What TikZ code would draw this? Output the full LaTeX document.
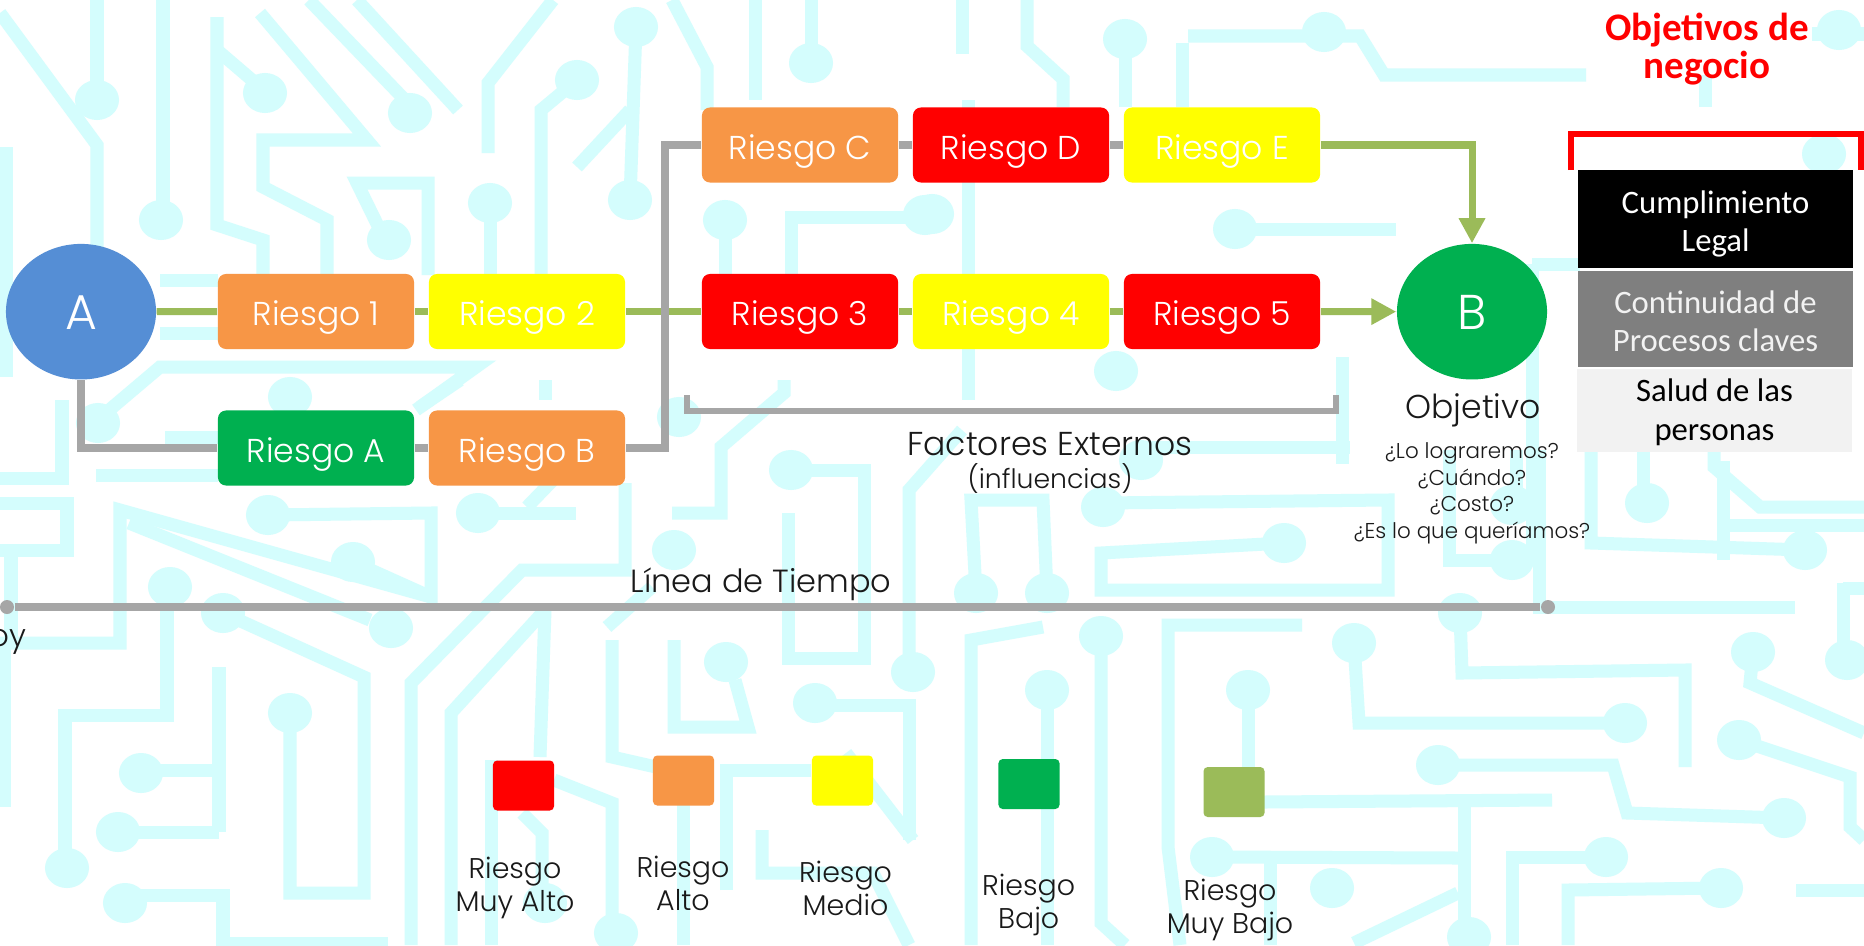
\documentclass[tikz,border=0pt]{standalone}
\usepackage{fontspec}
\setmainfont{Poppins Light}
\newfontfamily\calfont{Carlito}
\usetikzlibrary{shapes.geometric,arrows.meta}
\definecolor{bgc}{RGB}{212,253,253}
\definecolor{cblue}{RGB}{85,142,213}
\definecolor{corange}{RGB}{247,150,70}
\definecolor{cyellow}{RGB}{255,255,0}
\definecolor{cred}{RGB}{255,0,0}
\definecolor{cgreen}{RGB}{0,176,80}
\definecolor{clgreen}{RGB}{155,187,89}
\definecolor{lgray}{RGB}{166,166,166}
\definecolor{boxgray}{RGB}{127,127,127}
\definecolor{boxlight}{RGB}{242,242,242}
\definecolor{txt}{RGB}{25,25,25}
\newcommand{\cpad}[2]{\fill[bgc] (#1,#2) ellipse [x radius=0.22cm, y radius=0.2cm];}
\tikzset{
  trace/.style={draw=bgc, line width=3.7pt},
  riskbox/.style={rounded corners=2.3pt, minimum width=1.96cm, minimum height=0.75cm, inner sep=0pt,
    text=white, font=\fontsize{9.4}{11}\selectfont, text height=8pt, text depth=0pt},
  endpoint/.style={ellipse, minimum width=1.5cm, minimum height=1.355cm, inner sep=0pt, text=white,
    font=\fontsize{13.9}{15}\selectfont, text height=10.4pt, text depth=0pt},
  gline/.style={draw=clgreen, line width=2pt},
  gyline/.style={draw=lgray, line width=2pt},
  tip/.style={-{Triangle[width=0.25cm,length=0.25cm]}},
  obox/.style={minimum width=2.75cm, inner sep=0pt},
  otext/.style={inner sep=0pt, align=center, font=\calfont\fontsize{9.3}{11}\selectfont},
  legsq/.style={rounded corners=1.2pt, minimum width=0.61cm, minimum height=0.5cm, inner sep=0pt},
  leglab/.style={anchor=north, inner sep=0pt, align=center, text=txt, font=\fontsize{8.1}{9.4}\selectfont},
  plain/.style={inner sep=0pt, text=txt},
  dot/.style={circle, fill=lgray, minimum size=0.14cm, inner sep=0pt}
}
\begin{document}
\begin{tikzpicture}[x=0.01cm,y=-0.01cm]
\useasboundingbox[fill=white] (0,0) rectangle (1864,945);
% ---------- background circuit pattern ----------
% top left
\draw[trace] (0,13)--(97,145)--(97,250);
\draw[trace] (97,0)--(97,100); \cpad{97}{100}
\draw[trace] (6,147)--(6,377);
\draw[trace] (163,0)--(163,220); \cpad{161}{220}
\draw[trace] (217,17)--(217,225)--(263,240)--(263,275);
\draw[trace] (217,50)--(252,80); \cpad{265}{93}
\draw[trace] (260,13)--(367,140)--(263,140)--(263,187)--(327,220)--(327,275);
\draw[trace] (309,0)--(405,100); \cpad{410}{113}
\draw[trace] (357,0)--(458,110);
\draw[trace] (428,275)--(428,183)--(357,183)--(380,230); \cpad{389}{240}
\draw[trace] (488,153)--(488,83)--(553,0);
\cpad{490}{203} \draw[trace] (490,203)--(490,275);
\cpad{577}{80} \draw[trace] (577,80)--(541,110)--(541,275);
\cpad{636}{27} \cpad{630}{200} \draw[trace] (636,27)--(630,200);
\draw[trace] (577,167)--(630,110);
\draw[trace] (672,0)--(707,67)--(707,110);
\draw[trace] (755,0)--(755,100);
\draw[trace] (811,0)--(811,63); \cpad{811}{63}
\draw[trace] (785,217)--(932,217); \draw[trace] (791,217)--(791,275); \cpad{925}{215}
\cpad{725}{220} \draw[trace] (725,220)--(725,275);
\draw[trace] (101,417)--(160,367)--(476,367)--(416,410); \cpad{98}{423}
\draw[trace] (160,280)--(218,280);
\draw[trace] (160,333)--(218,333);
% middle band left
\draw[trace] (62,400)--(62,478)--(0,478);
\draw[trace] (96,475)--(218,475);
\draw[trace] (165,437)--(219,437);
\cpad{290}{397}
\draw[trace] (420,407)--(460,380);
\draw[trace] (545,380)--(545,400);
\draw[trace] (0,503)--(67,503)--(67,550)--(0,550);
\draw[trace] (11,550)--(11,640);
\draw[trace] (0,643)--(120,643)--(120,510)--(431,597)--(431,513)--(268,515); \cpad{268}{515}
\draw[trace] (129,523)--(370,620); \cpad{391}{628}
\cpad{353}{562} \draw[trace] (353,562)--(431,597);
\cpad{478}{513} \draw[trace] (478,513)--(576,513);
\draw[trace] (527,507)--(553,480);
\draw[trace] (625,483)--(625,570)--(522,570)--(411,683)--(411,945);
\cpad{674}{550} \cpad{679}{417}
\draw[trace] (607,627)--(652,587);
% middle band right
\draw[trace] (672,513)--(721,513)--(721,447)--(784,393)--(784,380);
\cpad{791}{470} \draw[trace] (791,470)--(864,470)--(864,658)--(788,658)--(788,513);
\draw[trace] (962,430)--(909,490)--(909,665); \cpad{913}{672}
\draw[trace] (976,593)--(971,500)--(1043,500)--(1047,593); \cpad{976}{593} \cpad{1047}{593}
\cpad{1103}{507} \draw[trace] (1103,503)--(1388,500)--(1388,590)--(1101,590)--(1101,553)--(1284,543); \cpad{1284}{543}
\cpad{1141}{460} \draw[trace] (1141,447)--(1350,447);
\draw[trace] (968,100)--(968,400);
\cpad{932}{214}
\cpad{1116}{371}
\draw[trace] (1342,357)--(1342,464);
% top right
\draw[trace] (962,0)--(962,54);
\draw[trace] (1027,0)--(1027,46)--(1063,79)--(1063,107);
\cpad{1125}{39} \draw[trace] (1125,39)--(1125,107);
\draw[trace] (1188,36)--(1360,36)--(1384,75)--(1586,75);
\cpad{1324}{32}
\draw[trace] (1182,43)--(1182,107);
\draw[trace] (1812,34)--(1864,34); \cpad{1839}{30}
\cpad{1824}{154}
\draw[trace] (1705,75)--(1705,107);
\cpad{1235}{229} \draw[trace] (1235,229)--(1396,229);
\draw[trace] (1532,264)--(1532,557); \draw[trace] (1532,264)--(1580,264);
\draw[trace] (1723,461)--(1723,560); \draw[trace] (1723,525)--(1864,525);
% lower right
\draw[trace] (1643,450)--(1643,503); \cpad{1647}{503}
\draw[trace] (1591,450)--(1591,543)--(1805,550); \cpad{1805}{550}
\draw[trace] (1714,450)--(1714,467)--(1760,507)--(1864,507);
\draw[trace] (1539,450)--(1539,607)--(1795,607);
\draw[trace] (1449,450)--(1449,560)--(1512,560); \cpad{1512}{560}
\draw[trace] (1516,450)--(1516,505); \cpad{1512}{505}
\cpad{1460}{613} \draw[trace] (1460,613)--(1462,673)--(1685,670)--(1685,767);
\cpad{1354}{643} \draw[trace] (1354,643)--(1359,723)--(1625,723); \cpad{1625}{723}
\cpad{1438}{765} \draw[trace] (1438,765)--(1613,765)--(1627,813)--(1784,818); \cpad{1784}{818}
\cpad{1753}{652} \draw[trace] (1753,652)--(1750,683)--(1864,733);
\cpad{1739}{740} \draw[trace] (1739,740)--(1850,777)--(1850,827)--(1864,840);
\draw[trace] (1843,583)--(1843,650); \cpad{1847}{660} \draw[trace] (1843,588)--(1864,588);
\draw[trace] (1264,802)--(1552,800); \draw[trace] (1464,800)--(1464,945);
\draw[trace] (1212,857)--(1458,858); \cpad{1212}{857}
\draw[trace] (1270,857)--(1270,945);
\draw[trace] (1512,945)--(1512,857)--(1606,857); \cpad{1606}{857}
\draw[trace] (1568,945)--(1568,890)--(1721,888); \cpad{1721}{888}
\draw[trace] (1796,890)--(1864,890);
\cpad{1332}{888} \draw[trace] (1458,893)--(1354,943);
\cpad{1469}{937}
% lower left
\draw[trace] (4,640)--(4,807);
\cpad{170}{587} \draw[trace] (167,600)--(167,715)--(65,715)--(65,853); \cpad{67}{868}
\cpad{223}{613} \draw[trace] (223,613)--(364,677)--(364,893)--(290,893)--(290,713); \cpad{290}{713}
\draw[trace] (219,667)--(219,832); \draw[trace] (141,770)--(219,770); \cpad{141}{773}
\cpad{118}{832} \draw[trace] (118,832)--(219,832);
\cpad{125}{903} \draw[trace] (125,895)--(223,895)--(223,943)--(388,943);
\draw[trace] (545,610)--(451,713)--(451,945);
\draw[trace] (545,610)--(540,757);
\draw[trace] (522,813)--(542,833)--(542,895); \cpad{545}{903}
\draw[trace] (491,760)--(491,945);
\draw[trace] (554,780)--(612,803)--(612,927); \cpad{616}{933}
\draw[trace] (612,640)--(612,757)--(656,767);
\cpad{726}{662} \draw[trace] (735,680)--(748,727)--(674,727)--(674,640);
\draw[trace] (683,790)--(683,945);
\cpad{815}{703} \draw[trace] (815,705)--(909,705)--(909,840);
\draw[trace] (846,753)--(913,840);
\draw[trace] (726,890)--(726,770)--(811,770);
\draw[trace] (762,830)--(762,873)--(873,873)--(909,945);
\draw[trace] (971,945)--(971,640)--(1043,627);
\cpad{1047}{690} \draw[trace] (1047,690)--(1047,945);
\cpad{1101}{636} \draw[trace] (1101,636)--(1101,923)--(1125,945);
\draw[trace] (1180,945)--(1168,847)--(1168,625)--(1302,625);
\cpad{1248}{690} \draw[trace] (1248,690)--(1248,767);
% ---------- foreground ----------
\node[endpoint, fill=cblue] (A) at (81,311.7) {A};
\node[endpoint, fill=cgreen] (B) at (1472,311.7) {B};
\node[riskbox, fill=corange] (r1) at (316,311.5) {Riesgo 1};
\node[riskbox, fill=cyellow] (r2) at (527,311.5) {Riesgo 2};
\node[riskbox, fill=cred] (r3) at (800,311.5) {Riesgo 3};
\node[riskbox, fill=cyellow] (r4) at (1011,311.5) {Riesgo 4};
\node[riskbox, fill=cred] (r5) at (1222,311.5) {Riesgo 5};
\node[riskbox, fill=corange] (rc) at (800,145) {Riesgo C};
\node[riskbox, fill=cred] (rd) at (1011,145) {Riesgo D};
\node[riskbox, fill=cyellow] (re) at (1222,145) {Riesgo E};
\node[riskbox, fill=cgreen] (ra) at (316,448) {Riesgo A};
\node[riskbox, fill=corange] (rb) at (527,448) {Riesgo B};
\coordinate (j1) at (665,448);
\coordinate (j2) at (665,145);
\draw[gline] (A) -- (r1);
\draw[gline] (r1) -- (r2);
\draw[gline] (r2) -- (r3);
\draw[gline] (r3) -- (r4);
\draw[gline] (r4) -- (r5);
\draw[gline, tip] (r5) -- (B);
\draw[gline, tip] (re) -| (B);
\draw[gyline] (A) |- (ra);
\draw[gyline] (ra) -- (rb);
\draw[gyline] (rb) -- (j1) -- (j2) -- (rc);
\draw[gyline] (rc) -- (rd);
\draw[gyline] (rd) -- (re);
% bracket external factors
\coordinate (b1) at (687,395); \coordinate (b2) at (687,411);
\coordinate (b3) at (1336,411); \coordinate (b4) at (1336,395);
\draw[gyline, line width=1.7pt] (b1) -- (b2) -- (b3) -- (b4);
\node[plain, anchor=base, font=\fontsize{9.4}{10}\selectfont] (fe) at (1050,455) {Factores Externos};
\node[plain, anchor=base, font=\fontsize{7.6}{9}\selectfont] (fi) at (1050,488) {(influencias)};
\node[plain, anchor=base, font=\fontsize{9.4}{11}\selectfont] (ob) at (1473,418) {Objetivo};
\node[plain, anchor=north, align=center, font=\fontsize{6.1}{7.55}\selectfont] (qs) at (1472,442)
  {¿Lo lograremos?\\¿Cuándo?\\¿Costo?\\¿Es lo que queríamos?};
% time line
\node[dot] (t0) at (7,607) {};
\node[dot] (t1) at (1548,607) {};
\draw[gyline] (t0) -- (t1);
\node[plain, anchor=base, font=\fontsize{9.1}{10}\selectfont] (lt) at (761,592) {Línea de Tiempo};
\node[plain, anchor=base east, font=\fontsize{8.8}{10}\selectfont] (hoy) at (27,646) {Hoy};
% business objectives
\node[anchor=north, inner sep=0pt, align=center, text=cred, font=\calfont\bfseries\fontsize{11.1}{10.9}\selectfont] (ttl) at (1707,12.5) {Objetivos de\\negocio};
\coordinate (k1) at (1571,170); \coordinate (k2) at (1571,134);
\coordinate (k3) at (1861,134); \coordinate (k4) at (1861,170);
\draw[draw=cred, line width=1.7pt] (k1) -- (k2) -- (k3) -- (k4);
\node[obox, fill=black, minimum height=0.98cm] (o1) at (1715.5,219) {};
\node[obox, fill=boxgray, minimum height=0.96cm] (o2) at (1715.5,319) {};
\node[obox, fill=boxlight, minimum height=0.83cm] (o3) at (1714.5,410.5) {};
\node[otext, text=white] (o1t) at ([yshift=-1.4pt]o1.center) {Cumplimiento\\Legal};
\node[otext, text=boxlight] (o2t) at ([yshift=-0.6pt]o2.center) {Continuidad de\\Procesos claves};
\node[otext, text=black] (o3t) at ([yshift=-0.6pt]o3.center) {Salud de las\\personas};
% legend
\node[legsq, fill=cred] (l1) at (523.5,785.5) {};
\node[legsq, fill=corange] (l2) at (683.5,780.5) {};
\node[legsq, fill=cyellow] (l3) at (842.5,780.5) {};
\node[legsq, fill=cgreen] (l4) at (1029,784) {};
\node[legsq, fill=clgreen] (l5) at (1234,792) {};
\node[leglab] (m1) at (515,856) {Riesgo\\Muy Alto};
\node[leglab] (m2) at (683,855) {Riesgo\\Alto};
\node[leglab] (m3) at (845.5,860) {Riesgo\\Medio};
\node[leglab] (m4) at (1028.6,873) {Riesgo\\Bajo};
\node[leglab] (m5) at (1230,878) {Riesgo\\Muy Bajo};
\end{tikzpicture}
\end{document}
